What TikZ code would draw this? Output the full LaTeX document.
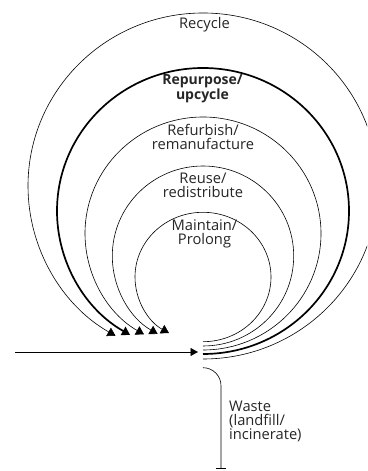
\documentclass[tikz,border=0pt]{standalone}
\usepackage{fontspec}
\setmainfont{Open Sans}
\usepackage{tikz}
\usetikzlibrary{arrows.meta, positioning}

\begin{document}
\begin{tikzpicture}[x=1pt, y=1pt,
			loop/.style={draw=black, line width=0.6pt, -{Triangle[length=8pt, width=9.5pt]}},
			loopbold/.style={loop, line width=1.7pt},
			lab/.style={font=\fontsize{14.7}{13.8}\selectfont, text=black!85, align=center, inner sep=0pt},
			feed/.style={draw=black, line width=0.6pt, -{Triangle[length=7.5pt, width=8pt]}},
			waste/.style={draw=black, line width=0.6pt, -{Bar[width=10pt]}}
			]
			\clip (0,0) rectangle (367,471);
			% loops, innermost first
			\foreach \n/\cy/\rx/\ry/\sty in {1/194/68/64.7/loop, 2/215/90.7/90/loop, 3/237.5/118/116.5/loop, 4/260/146/143/loopbold, 5/285/175/173/loop}{
				\coordinate (s\n) at (203,\cy-\ry);
				\draw[\sty] (s\n) arc[start angle=-90, end angle=240, x radius=\rx, y radius=\ry];
			}
			\node[lab] (recycle) at (204.5,446) {Recycle};
			\node[lab, font=\fontsize{14}{13.5}\selectfont\bfseries] (repurpose) at (202.5,382.5) {Repurpose/\\upcycle};
			\node[lab] (refurbish) at (203,334) {Refurbish/\\remanufacture};
			\node[lab] (reuse) at (203,286) {Reuse/\\redistribute};
			\node[lab] (maintain) at (204.5,237.5) {Maintain/\\Prolong};
			% input and waste
			\coordinate (source) at (15,119);
			\coordinate (hub) at (198,119);
			\draw[feed] (source) -- (hub);
			\coordinate (w0) at (203,103.3);
			\coordinate (dump) at (221,2);
			\draw[waste] (w0) arc[start angle=90, end angle=0, radius=18] -- (dump);
			\node[lab, align=left, anchor=west] (wastelab) at (229,49.5) {Waste\\(landfill/\\incinerate)};
		\end{tikzpicture}
\end{document}
